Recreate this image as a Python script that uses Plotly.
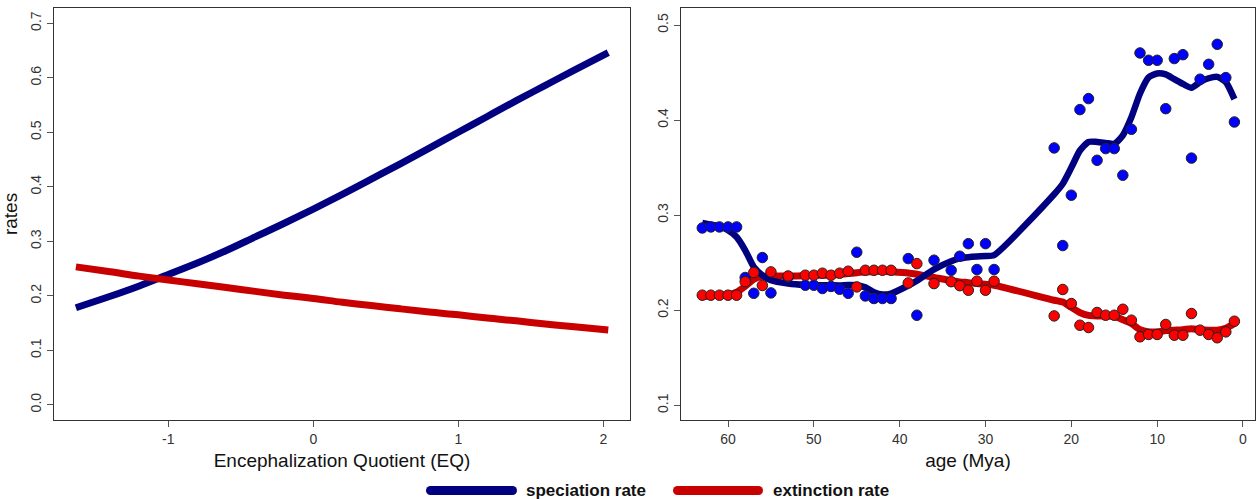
import plotly.graph_objects as go

# ---------------- Left panel: rates vs EQ ----------------
eq_vals = [-1.637, -1.4, -1.2, -1.0, -0.8, -0.6, -0.4, -0.2, 0.0, 0.2, 0.4,
           0.6, 0.8, 1.0, 1.2, 1.4, 1.6, 1.8, 2.034]
eq_spec = [0.178, 0.199, 0.218, 0.239, 0.260, 0.283, 0.308, 0.333, 0.359, 0.386,
           0.414, 0.442, 0.471, 0.500, 0.529, 0.558, 0.586, 0.614, 0.646]
eq_ext = [0.253, 0.244, 0.236, 0.229, 0.222, 0.215, 0.208, 0.201, 0.195, 0.188,
          0.182, 0.176, 0.170, 0.165, 0.159, 0.154, 0.148, 0.143, 0.137]

# ---------------- Right panel: rates through time ----------------
ages = [63, 62, 61, 60, 59, 58, 57, 56, 55, 53, 51, 50, 49, 48, 47, 46, 45, 44,
        43, 42, 41, 39, 38, 36, 34, 33, 32, 31, 30, 29, 22, 21, 20, 19, 18, 17,
        16, 15, 14, 13, 12, 11, 10, 9, 8, 7, 6, 5, 4, 3, 2, 1]
spec_pts = [0.2865, 0.2876, 0.2876, 0.2876, 0.2876, 0.2344, 0.2178, 0.2554, 0.2182,
            0.2350, 0.2263, 0.2263, 0.2228, 0.2250, 0.2220, 0.2178, 0.2610, 0.2150,
            0.2123, 0.2123, 0.2123, 0.2543, 0.1947, 0.2526, 0.2420, 0.2568, 0.2700,
            0.2428, 0.2700, 0.2428, 0.3707, 0.2680, 0.3210, 0.4110, 0.4226, 0.3577,
            0.3700, 0.3700, 0.3420, 0.3903, 0.4706, 0.4629, 0.4629, 0.4120, 0.4647,
            0.4688, 0.3600, 0.4430, 0.4587, 0.4797, 0.4447, 0.3980]
ext_pts = [0.2158, 0.2158, 0.2158, 0.2158, 0.2158, 0.2300, 0.2396, 0.2260, 0.2403,
           0.2360, 0.2368, 0.2368, 0.2389, 0.2368, 0.2389, 0.2410, 0.2245, 0.2420,
           0.2420, 0.2420, 0.2420, 0.2287, 0.2490, 0.2280, 0.2300, 0.2258, 0.2210,
           0.2305, 0.2210, 0.2305, 0.1940, 0.2218, 0.2070, 0.1842, 0.1818, 0.1976,
           0.1947, 0.1947, 0.2010, 0.1895, 0.1720, 0.1745, 0.1745, 0.1850, 0.1737,
           0.1737, 0.1965, 0.1790, 0.1745, 0.1710, 0.1772, 0.1884]
spec_smooth = [0.2918, 0.2900, 0.2883, 0.2840, 0.2770, 0.2630, 0.2455, 0.2368, 0.2315,
               0.2280, 0.2265, 0.2263, 0.2263, 0.2262, 0.2260, 0.2265, 0.2263, 0.2240,
               0.2190, 0.2165, 0.2175, 0.2260, 0.2310, 0.2430, 0.2515, 0.2545, 0.2558,
               0.2565, 0.2570, 0.2580, 0.3220, 0.3330, 0.3500, 0.3680, 0.3770, 0.3770,
               0.3760, 0.3750, 0.3840, 0.4030, 0.4280, 0.4450, 0.4490, 0.4480, 0.4430,
               0.4380, 0.4340, 0.4400, 0.4440, 0.4455, 0.4400, 0.4220]
ext_smooth = [0.2140, 0.2152, 0.2158, 0.2165, 0.2190, 0.2252, 0.2326, 0.2357, 0.2361,
              0.2360, 0.2362, 0.2365, 0.2368, 0.2370, 0.2375, 0.2385, 0.2395, 0.2402,
              0.2408, 0.2410, 0.2405, 0.2392, 0.2378, 0.2345, 0.2310, 0.2298, 0.2290,
              0.2280, 0.2272, 0.2263, 0.2105, 0.2085, 0.2030, 0.1975, 0.1945, 0.1940,
              0.1940, 0.1935, 0.1900, 0.1860, 0.1795, 0.1772, 0.1772, 0.1785, 0.1790,
              0.1795, 0.1805, 0.1795, 0.1790, 0.1790, 0.1810, 0.1860]

left_xticks = [-1, 0, 1, 2]
left_yticks = [0.0, 0.1, 0.2, 0.3, 0.4, 0.5, 0.6, 0.7]
right_xticks = [60, 50, 40, 30, 20, 10, 0]
right_yticks = [0.1, 0.2, 0.3, 0.4, 0.5]
legend_labels = ["speciation rate", "extinction rate"]

NAVY = "#000080"
DARKRED = "#C80000"
FONT = "Liberation Sans, Arial, sans-serif"

fig = go.Figure()

# left panel
fig.add_trace(go.Scatter(x=eq_vals, y=eq_spec, mode="lines", line=dict(color=NAVY, width=7, shape="spline"),
                         xaxis="x", yaxis="y", showlegend=False))
fig.add_trace(go.Scatter(x=eq_vals, y=eq_ext, mode="lines", line=dict(color=DARKRED, width=7, shape="spline"),
                         xaxis="x", yaxis="y", showlegend=False))

# right panel smooth lines
fig.add_trace(go.Scatter(x=ages, y=ext_smooth, mode="lines",
                         line=dict(color=DARKRED, width=7, shape="spline", smoothing=0.6),
                         xaxis="x2", yaxis="y2", showlegend=False))
fig.add_trace(go.Scatter(x=ages, y=spec_smooth, mode="lines",
                         line=dict(color=NAVY, width=6.5, shape="spline", smoothing=0.6),
                         xaxis="x2", yaxis="y2", showlegend=False))
# points
fig.add_trace(go.Scatter(x=ages, y=spec_pts, mode="markers",
                         marker=dict(color="#0000FF", size=10.5, line=dict(color="#222222", width=1)),
                         xaxis="x2", yaxis="y2", showlegend=False))
fig.add_trace(go.Scatter(x=ages, y=ext_pts, mode="markers",
                         marker=dict(color="#FF0000", size=10.5, line=dict(color="#222222", width=1)),
                         xaxis="x2", yaxis="y2", showlegend=False))

W, H = 1256, 499
tickfont = dict(family=FONT, size=14, color="#333333")
titlefont = dict(family=FONT, size=19, color="#111111")

common = dict(showgrid=False, zeroline=False, showline=True, mirror=True, linecolor="#333333",
              linewidth=1, ticks="outside", ticklen=6, tickcolor="#555555", tickfont=tickfont)

fig.update_layout(
    width=W, height=H,
    margin=dict(l=0, r=0, t=0, b=0),
    paper_bgcolor="white", plot_bgcolor="white",
    xaxis=dict(domain=[54 / W, 630 / W], range=[-1.788, 2.184], tickvals=left_xticks,
               ticktext=[str(v) for v in left_xticks], anchor="y",
               title=dict(text="Encephalization Quotient (EQ)", font=titlefont, standoff=7), **common),
    yaxis=dict(domain=[1 - 420 / H, 1 - 8 / H], range=[-0.028, 0.728], tickvals=left_yticks,
               ticktext=["%.1f" % v for v in left_yticks], tickangle=-90, anchor="x",
               title=dict(text="rates", font=titlefont, standoff=6), **common),
    xaxis2=dict(domain=[681 / W, 1255 / W], range=[65.48, -1.40], tickvals=right_xticks,
                ticktext=[str(v) for v in right_xticks], anchor="y2",
                title=dict(text="age (Mya)", font=titlefont, standoff=7), **common),
    yaxis2=dict(domain=[1 - 420 / H, 1 - 8 / H], range=[0.0845, 0.5179], tickvals=right_yticks,
                ticktext=["%.1f" % v for v in right_yticks], tickangle=-90, anchor="x2", **common),
)

# manual legend at the bottom
leg_y = 1 - 490.5 / H
legend_items = [(426, 517, 524, NAVY, legend_labels[0]), (673, 763, 771, DARKRED, legend_labels[1])]
r = 4.5
for x0, x1, tx, col, lab in legend_items:
    fig.add_shape(type="line", xref="paper", yref="paper", x0=(x0 + r) / W, x1=(x1 - r) / W,
                  y0=leg_y, y1=leg_y, line=dict(color=col, width=9))
    for cx in (x0 + r, x1 - r):
        fig.add_shape(type="circle", xref="paper", yref="paper", xsizemode="pixel", ysizemode="pixel",
                      xanchor=cx / W, yanchor=leg_y, x0=-r, x1=r, y0=-r, y1=r,
                      fillcolor=col, line=dict(width=0))
    fig.add_annotation(xref="paper", yref="paper", x=tx / W, y=leg_y, xanchor="left", yanchor="middle",
                       text="<b>%s</b>" % lab, showarrow=False,
                       font=dict(family=FONT, size=17, color="#111111"))

fig.write_html("out.html")
